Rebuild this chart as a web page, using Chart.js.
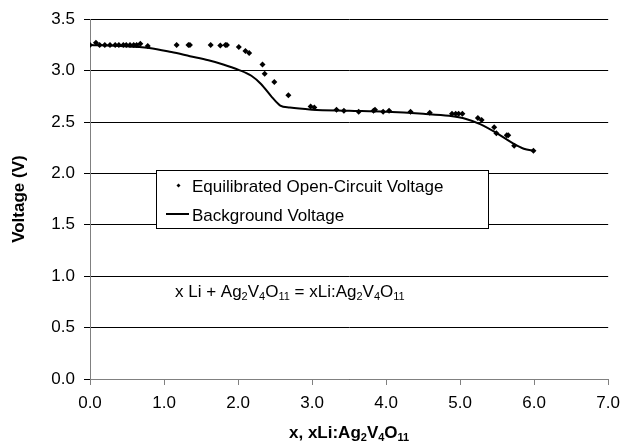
<!DOCTYPE html>
<html>
<head>
<meta charset="utf-8">
<script src="https://cdn.jsdelivr.net/npm/chart.js@4.4.0/dist/chart.umd.min.js"></script>
<style>
  body { margin: 0; background: #fff; }
  #wrap { width: 628px; height: 445px; }
</style>
</head>
<body>
<div id="wrap"><canvas id="grafico"></canvas></div>
<script>
// equilibrated open-circuit voltage points
const ocvX = [0.00, 0.08, 0.13, 0.20, 0.27, 0.34, 0.39, 0.45, 0.49, 0.54, 0.59, 0.63, 0.68, 0.78,
  1.17, 1.33, 1.35, 1.63, 1.76, 1.83, 1.85, 2.01, 2.10, 2.15, 2.33, 2.36, 2.49, 2.68,
  2.98, 3.03, 3.33, 3.43, 3.63, 3.83, 3.85, 3.96, 4.04, 4.33, 4.59, 4.89, 4.94, 4.98, 5.03,
  5.24, 5.29, 5.46, 5.49, 5.63, 5.65, 5.73, 5.99];
const ocvV = [3.25, 3.27, 3.25, 3.25, 3.25, 3.25, 3.25, 3.25, 3.25, 3.25, 3.25, 3.25, 3.26, 3.24,
  3.25, 3.25, 3.25, 3.25, 3.245, 3.25, 3.25, 3.23, 3.19, 3.17, 3.06, 2.97, 2.89, 2.76,
  2.65, 2.64, 2.62, 2.61, 2.60, 2.61, 2.62, 2.60, 2.61, 2.60, 2.59, 2.58, 2.58, 2.58, 2.58,
  2.54, 2.52, 2.45, 2.39, 2.37, 2.37, 2.27, 2.22];

// background voltage curve
const bgX = [0, 0.4, 0.8, 1.1, 1.35, 1.6, 1.8, 2.0, 2.18, 2.31, 2.46, 2.57, 2.70, 3.0, 3.5, 4.0,
  4.5, 4.85, 5.08, 5.27, 5.5, 5.72, 5.86, 6.0];
const bgV = [3.25, 3.24, 3.22, 3.18, 3.14, 3.10, 3.06, 3.01, 2.95, 2.87, 2.74, 2.66, 2.64, 2.62, 2.61, 2.60,
  2.58, 2.56, 2.53, 2.48, 2.39, 2.29, 2.24, 2.22];

const etiquetas = ['Equilibrated Open-Circuit Voltage', 'Background Voltage'];
const FUENTE = "Arial, 'Liberation Sans', sans-serif";

function pares(xs, ys) {
  return xs.map((x, i) => ({ x: x, y: ys[i] }));
}

// draw a string where pieces may be subscripts: [[text, isSub], ...]
function textoConSub(ctx, partes, x, y, size, bold) {
  let cx = x;
  partes.forEach(p => {
    const s = p[1] ? Math.round(size * 0.66) : size;
    ctx.font = (bold ? 'bold ' : '') + s + 'px ' + FUENTE;
    ctx.fillText(p[0], cx, p[1] ? y + 3 : y);
    cx += ctx.measureText(p[0]).width;
  });
  return cx - x;
}

function anchoConSub(ctx, partes, size, bold) {
  let w = 0;
  partes.forEach(p => {
    const s = p[1] ? Math.round(size * 0.66) : size;
    ctx.font = (bold ? 'bold ' : '') + s + 'px ' + FUENTE;
    w += ctx.measureText(p[0]).width;
  });
  return w;
}

const extras = {
  id: 'extras',
  afterDraw(chart) {
    const ctx = chart.ctx;
    const area = chart.chartArea;
    ctx.save();
    ctx.fillStyle = '#000';
    ctx.textBaseline = 'alphabetic';
    ctx.textAlign = 'left';

    // legend box inside the plot
    ctx.fillStyle = '#fff';
    ctx.fillRect(157, 171, 332, 58);
    ctx.strokeStyle = '#000';
    ctx.lineWidth = 1;
    ctx.strokeRect(156.5, 170.5, 332, 58);
    ctx.fillStyle = '#000';
    ctx.beginPath();
    ctx.moveTo(178.5, 183.5); ctx.lineTo(180.5, 185.5); ctx.lineTo(178.5, 187.5); ctx.lineTo(176.5, 185.5);
    ctx.closePath(); ctx.fill();
    ctx.lineWidth = 2;
    ctx.beginPath(); ctx.moveTo(166, 214); ctx.lineTo(189, 214); ctx.stroke();
    ctx.font = '17px ' + FUENTE;
    ctx.fillText(chart.data.datasets[0].label, 192, 192);
    ctx.fillText(chart.data.datasets[1].label, 192, 221);

    // reaction annotation
    textoConSub(ctx, [['x Li + Ag', 0], ['2', 1], ['V', 0], ['4', 1], ['O', 0], ['11', 1],
      [' = xLi:Ag', 0], ['2', 1], ['V', 0], ['4', 1], ['O', 0], ['11', 1]], 175, 297, 17, false);

    // x axis title
    const tx = [['x, xLi:Ag', 0], ['2', 1], ['V', 0], ['4', 1], ['O', 0], ['11', 1]];
    const w = anchoConSub(ctx, tx, 17, true);
    textoConSub(ctx, tx, (area.left + area.right) / 2 - w / 2, 438, 17, true);

    // y axis title
    ctx.translate(24, (area.top + area.bottom) / 2);
    ctx.rotate(-Math.PI / 2);
    ctx.textAlign = 'center';
    ctx.font = 'bold 17px ' + FUENTE;
    ctx.fillText('Voltage (V)', 0, 0);
    ctx.restore();
  }
};

const ctx = document.getElementById('grafico').getContext('2d');
new Chart(ctx, {
  type: 'scatter',
  data: {
    datasets: [{
      label: etiquetas[0],
      data: pares(ocvX, ocvV),
      pointStyle: 'rectRot',
      pointRadius: 3,
      backgroundColor: '#000',
      borderColor: '#000',
      borderWidth: 0,
      showLine: false
    }, {
      label: etiquetas[1],
      data: pares(bgX, bgV),
      showLine: true,
      pointRadius: 0,
      borderColor: '#000',
      borderWidth: 2,
      cubicInterpolationMode: 'monotone'
    }]
  },
  options: {
    responsive: true,
    maintainAspectRatio: false,
    animation: false,
    layout: { padding: { top: 18, right: 16, left: 0, bottom: 0 } },
    plugins: { legend: { display: false }, tooltip: { enabled: false } },
    scales: {
      x: {
        type: 'linear',
        min: 0, max: 7,
        afterFit: s => { s.height = 66; },
        ticks: { stepSize: 1, padding: 8, color: '#000', font: { size: 17, family: FUENTE },
          callback: v => v.toFixed(1), maxRotation: 0 },
        grid: { drawOnChartArea: false, drawTicks: true, tickLength: 6, color: '#808080' },
        border: { color: '#808080' }
      },
      y: {
        min: 0, max: 3.5,
        afterFit: s => { s.width = 90; },
        ticks: { stepSize: 0.5, padding: 9, color: '#000', font: { size: 17, family: FUENTE },
          callback: v => v.toFixed(1) },
        grid: { color: '#000', tickLength: 6 },
        border: { color: '#808080' }
      }
    }
  },
  plugins: [extras]
});
</script>
</body>
</html>
